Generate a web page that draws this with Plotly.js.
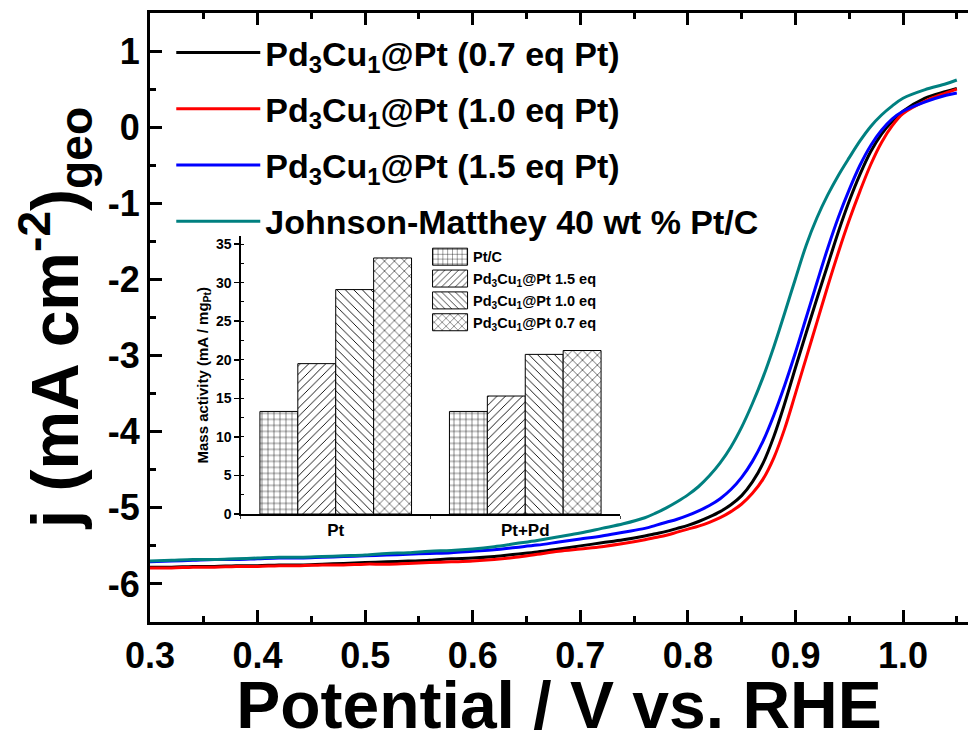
<!DOCTYPE html>
<html><head><meta charset="utf-8">
<script src="https://cdn.plot.ly/plotly-3.0.1.min.js"></script>
<style>html,body{margin:0;padding:0;background:#fff;} #chart{width:968px;height:742px;}</style>
</head><body><div id="chart"></div>
<script>
// ---- main LSV curves (potential in V vs RHE, current density in mA/cm2) ----
const potential = [0.30,0.32,0.34,0.36,0.38,0.40,0.42,0.44,0.46,0.48,0.50,0.52,0.54,0.56,0.58,0.60,0.62,0.64,0.66,0.68,0.70,0.72,0.74,0.76,
  0.77,0.78,0.79,0.80,0.81,0.82,0.83,0.84,0.85,0.86,0.87,0.88,0.89,0.90,0.91,0.92,0.93,0.94,0.95,0.96,0.97,0.98,0.99,
  1.00,1.02,1.04,1.05];
const j_07eq = [-5.78,-5.78,-5.77,-5.77,-5.76,-5.76,-5.75,-5.75,-5.74,-5.73,-5.72,-5.71,-5.70,-5.69,-5.67,-5.66,-5.64,-5.61,-5.58,-5.54,-5.50,-5.46,-5.42,-5.37,
  -5.34,-5.31,-5.27,-5.23,-5.18,-5.12,-5.05,-4.96,-4.84,-4.66,-4.41,-4.06,-3.63,-3.16,-2.70,-2.25,-1.81,-1.37,-0.97,-0.62,-0.32,-0.09,0.08,
  0.21,0.38,0.47,0.51];
const j_10eq = [-5.79,-5.79,-5.78,-5.78,-5.77,-5.77,-5.76,-5.76,-5.75,-5.75,-5.74,-5.74,-5.73,-5.72,-5.71,-5.70,-5.68,-5.65,-5.61,-5.57,-5.54,-5.51,-5.47,-5.42,
  -5.39,-5.36,-5.32,-5.28,-5.24,-5.19,-5.13,-5.05,-4.95,-4.81,-4.62,-4.34,-3.96,-3.50,-3.03,-2.56,-2.09,-1.64,-1.22,-0.84,-0.49,-0.20,0.02,
  0.18,0.34,0.45,0.50];
const j_15eq = [-5.71,-5.70,-5.69,-5.68,-5.68,-5.67,-5.66,-5.66,-5.65,-5.64,-5.63,-5.62,-5.61,-5.60,-5.59,-5.57,-5.55,-5.52,-5.49,-5.45,-5.41,-5.37,-5.32,-5.27,
  -5.23,-5.19,-5.15,-5.10,-5.04,-4.97,-4.88,-4.76,-4.60,-4.39,-4.12,-3.78,-3.39,-2.96,-2.50,-2.04,-1.59,-1.18,-0.82,-0.50,-0.24,-0.04,0.11,
  0.21,0.33,0.42,0.45];
const j_JM   = [-5.70,-5.69,-5.68,-5.68,-5.67,-5.66,-5.65,-5.65,-5.64,-5.63,-5.62,-5.60,-5.59,-5.57,-5.56,-5.54,-5.51,-5.47,-5.43,-5.38,-5.33,-5.27,-5.21,-5.13,
  -5.07,-5.00,-4.92,-4.83,-4.72,-4.58,-4.41,-4.20,-3.94,-3.63,-3.28,-2.88,-2.44,-1.99,-1.55,-1.19,-0.89,-0.63,-0.40,-0.18,0.01,0.16,0.28,
  0.38,0.49,0.57,0.62];
const curveNames = ['Pd<sub>3</sub>Cu<sub>1</sub>@Pt (0.7 eq Pt)','Pd<sub>3</sub>Cu<sub>1</sub>@Pt (1.0 eq Pt)','Pd<sub>3</sub>Cu<sub>1</sub>@Pt (1.5 eq Pt)','Johnson-Matthey 40 wt % Pt/C'];
const curveColors = ['#000000','#ff0000','#0000ff','#008080'];
const xTickVals = [0.3,0.4,0.5,0.6,0.7,0.8,0.9,1.0];
const xTickText = ['0.3','0.4','0.5','0.6','0.7','0.8','0.9','1.0'];
const yTickVals = [-6,-5,-4,-3,-2,-1,0,1];
const yTickText = ['-6','-5','-4','-3','-2','-1','0','1'];

// ---- inset: mass activity (mA / mg_Pt) ----
const barCategories = ['Pt','Pt+Pd'];
const ma_PtC  = [13.3, 13.3];
const ma_15eq = [19.5, 15.3];
const ma_10eq = [29.1, 20.7];
const ma_07eq = [33.2, 21.2];
const barNames = ['Pt/C','Pd<sub>3</sub>Cu<sub>1</sub>@Pt 1.5 eq','Pd<sub>3</sub>Cu<sub>1</sub>@Pt 1.0 eq','Pd<sub>3</sub>Cu<sub>1</sub>@Pt 0.7 eq'];
const barPatterns = ['+','/','\\','x'];

function hasFont(name){
  const c=document.createElement('canvas').getContext('2d');
  const s='0.123456789-';
  c.font='bold 40px monospace'; const a=c.measureText(s).width;
  c.font='bold 40px "'+name+'", monospace'; const b=c.measureText(s).width;
  return Math.abs(a-b)>0.5;
}
const narrow = hasFont('Liberation Sans Narrow');
const tickFont = narrow ? {family:'"Liberation Sans Narrow", "Arial Narrow", sans-serif', size:44, weight:'bold', color:'#000'}
                        : {family:'"Liberation Sans", Arial, sans-serif', size:36, weight:'bold', color:'#000'};
const SANS = '"Liberation Sans", Arial, sans-serif';

const curveData = [j_07eq, j_10eq, j_15eq, j_JM];
const traces = curveData.map((yv,i)=>({
  type:'scatter', mode:'lines', x:potential, y:yv, name:curveNames[i],
  line:{color:curveColors[i], width:3, shape:'spline', smoothing:1},
  legend:'legend', legendgroup:'g'+i, xaxis:'x', yaxis:'y'
}));
const barData = [ma_PtC, ma_15eq, ma_10eq, ma_07eq];
barData.forEach((yv,i)=>traces.push({
  type:'bar', x:barCategories, y:yv, name:barNames[i], xaxis:'x2', yaxis:'y2', legend:'legend2',
  marker:{color:'#ffffff', line:{color:'#000', width:1},
          pattern:{shape:barPatterns[i], fgcolor:'#000', bgcolor:'#fff', size:(i===3?7:6), solidity:0.15, fillmode:'replace'}}
}));

const layout = {
  width:968, height:742,
  margin:{l:150, r:0, t:13, b:120, pad:0},
  paper_bgcolor:'#fff', plot_bgcolor:'rgba(0,0,0,0)',
  font:{family:SANS, color:'#000'},
  hovermode:false,
  barmode:'group', bargap:0.2, bargroupgap:0,
  xaxis:{range:[0.3,1.0604], tickmode:'array', tickvals:xTickVals, ticktext:xTickText,
    ticks:'inside', ticklen:12, tickwidth:3, tickcolor:'#000',
    showline:true, linewidth:3, linecolor:'#000', mirror:'ticks',
    showgrid:false, zeroline:false, automargin:false,
    minor:{ticks:'inside', tick0:0.3, dtick:0.05, ticklen:6, tickwidth:3, tickcolor:'#000', showgrid:false},
    tickfont:tickFont,
    title:{text:'Potential / V vs. RHE', font:{family:SANS, size:66, weight:'bold', color:'#000'}, standoff:15}},
  yaxis:{range:[-6.5,1.5], tickmode:'array', tickvals:yTickVals, ticktext:yTickText,
    ticks:'inside', ticklen:12, tickwidth:3, tickcolor:'#000',
    showline:true, linewidth:3, linecolor:'#000', mirror:false,
    showgrid:false, zeroline:false, automargin:false,
    minor:{ticks:'inside', tick0:0, dtick:0.5, ticklen:6, tickwidth:3, tickcolor:'#000', showgrid:false},
    tickfont:tickFont,
    title:{text:'j (mA cm<sup>-2</sup>)<sub>geo</sub>', font:{family:SANS, size:66, weight:'bold', color:'#000'}, standoff:8}},
  xaxis2:{domain:[0.1112,0.5746], anchor:'y2', type:'category', range:[-0.5,1.5],
    showline:true, linewidth:1.5, linecolor:'#000', ticks:'outside', ticklen:3, tickwidth:1, tickson:'boundaries',
    showgrid:false, zeroline:false, tickfont:{family:SANS, size:17, weight:'bold', color:'#000'}},
  yaxis2:{domain:[0.1773,0.6332], anchor:'x2', range:[0,36], dtick:5,
    ticks:'outside', ticklen:5, tickwidth:1.5, tickcolor:'#000',
    showline:true, linewidth:1.5, linecolor:'#000', showgrid:false, zeroline:false,
    minor:{ticks:'inside', dtick:2.5, ticklen:3, tickwidth:1, tickcolor:'#000', showgrid:false},
    tickfont:{family:SANS, size:14, weight:'bold', color:'#000'},
    title:{text:'Mass activity (mA / mg<sub>Pt</sub>)', font:{family:SANS, size:15, weight:'bold', color:'#000'}, standoff:4}},
  showlegend:true,
  legend:{x:0.026, y:0.982, xanchor:'left', yanchor:'top', bgcolor:'rgba(0,0,0,0)', borderwidth:0,
    font:{family:SANS, size:34, weight:'bold', color:'#000'}, itemwidth:84, tracegroupgap:9, traceorder:'grouped'},
  legend2:{x:0.3387, y:0.626, xanchor:'left', yanchor:'top', bgcolor:'rgba(0,0,0,0)', borderwidth:0,
    font:{family:SANS, size:14.5, weight:'bold', color:'#000'}, itemwidth:36, tracegroupgap:0, traceorder:'normal'}
};

Plotly.newPlot('chart', traces, layout, {displayModeBar:false, staticPlot:true}).then(gd=>{
  // enlarge the hatched swatches of the inset legend to the reference's 35x17 boxes
  gd.querySelectorAll('g.legend2 .legendpoints path').forEach(p=>{
    if ((p.getAttribute('d')||'').indexOf('M6,6H-6V-6H6Z')===0) p.setAttribute('d','M17.5,8.5H-17.5V-8.5H17.5Z');
  });
});
</script></body></html>
